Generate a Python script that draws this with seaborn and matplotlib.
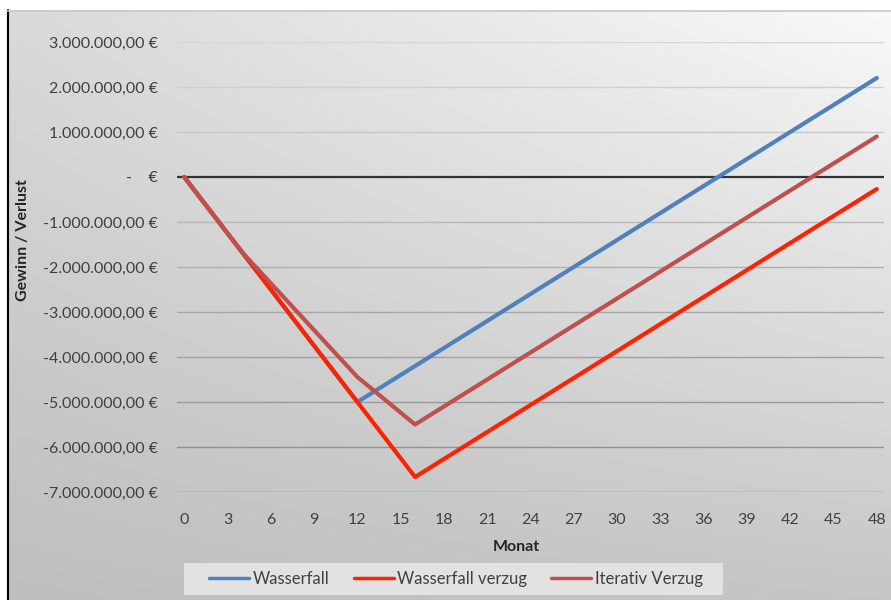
import numpy as np
import pandas as pd
import matplotlib
matplotlib.use("Agg")
import matplotlib.pyplot as plt
from matplotlib.patches import Rectangle
from matplotlib.ticker import FixedLocator, FuncFormatter
import seaborn as sns

# Monthly profit / loss in million euros
monat = list(range(0, 49))

wasserfall = [
    0.000, -0.417, -0.833, -1.250, -1.667, -2.083, -2.500, -2.917, -3.333,
    -3.750, -4.167, -4.583, -5.000, -4.800, -4.600, -4.400, -4.200, -4.000,
    -3.800, -3.600, -3.400, -3.200, -3.000, -2.800, -2.600, -2.400, -2.200,
    -2.000, -1.800, -1.600, -1.400, -1.200, -1.000, -0.800, -0.600, -0.400,
    -0.200, 0.000, 0.200, 0.400, 0.600, 0.800, 1.000, 1.200, 1.400, 1.600,
    1.800, 2.000, 2.200,
]

wasserfall_verzug = [
    0.000, -0.417, -0.833, -1.250, -1.667, -2.083, -2.500, -2.917, -3.333,
    -3.750, -4.167, -4.583, -5.000, -5.417, -5.833, -6.250, -6.667, -6.467,
    -6.267, -6.067, -5.867, -5.667, -5.467, -5.267, -5.067, -4.867, -4.667,
    -4.467, -4.267, -4.067, -3.867, -3.667, -3.467, -3.267, -3.067, -2.867,
    -2.667, -2.467, -2.267, -2.067, -1.867, -1.667, -1.467, -1.267, -1.067,
    -0.867, -0.667, -0.467, -0.267,
]

iterativ_verzug = [
    0.000, -0.417, -0.833, -1.250, -1.667, -2.014, -2.361, -2.708, -3.056,
    -3.403, -3.750, -4.097, -4.444, -4.708, -4.972, -5.236, -5.500, -5.300,
    -5.100, -4.900, -4.700, -4.500, -4.300, -4.100, -3.900, -3.700, -3.500,
    -3.300, -3.100, -2.900, -2.700, -2.500, -2.300, -2.100, -1.900, -1.700,
    -1.500, -1.300, -1.100, -0.900, -0.700, -0.500, -0.300, -0.100, 0.100,
    0.300, 0.500, 0.700, 0.900,
]

serien = ["Wasserfall", "Wasserfall verzug", "Iterativ Verzug"]
farben = ["#4f81bd", "#ff2200", "#c0504d"]
x_ticks = list(range(0, 49, 3))
y_ticks = [3e6, 2e6, 1e6, 0, -1e6, -2e6, -3e6, -4e6, -5e6, -6e6, -7e6]

df = pd.DataFrame({
    "Monat": monat * 3,
    "Wert": [v * 1e6 for v in wasserfall + wasserfall_verzug + iterativ_verzug],
    "Serie": [serien[0]] * 49 + [serien[1]] * 49 + [serien[2]] * 49,
})

sns.set_style("white")
plt.rcParams["font.family"] = ["Lato", "DejaVu Sans"]

W, H = 891, 600
fig = plt.figure(figsize=(W / 100, H / 100), dpi=100)

# Background: shaded panel with a light upper-right corner
bg = fig.add_axes([0, 0, 1, 1], zorder=-10)
bg.set_xlim(0, W)
bg.set_ylim(H, 0)
bg.axis("off")
xs = np.linspace(0, 1, W)
ys = np.linspace(0, 1, H)
X, Y = np.meshgrid(xs, ys)
tl, tr, bl, br = 218, 250, 190, 198
grad = (tl * (1 - X) * (1 - Y) + tr * X * (1 - Y) + bl * (1 - X) * Y + br * X * Y) / 255.0
img = np.dstack([grad, grad, grad])
img[:10, :, :] = 1.0
img[:, :7, :] = 1.0
bg.imshow(img, extent=(0, W, H, 0), aspect="auto", interpolation="bilinear")
bg.plot([7.5, 7.5], [10, H], color="black", lw=1.5)
bg.plot([7, W], [10.5, 10.5], color="#c8c8c8", lw=1.2)
# Legend panel
bg.add_patch(Rectangle((184, 563), 723 - 184, 595 - 563,
                       facecolor="#e2e2e2", edgecolor="none"))

ax = fig.add_axes([177 / W, (H - 492) / H, (884 - 177) / W, (492 - 42) / H])
ax.set_facecolor("none")

sns.lineplot(data=df, x="Monat", y="Wert", hue="Serie", hue_order=serien,
             palette=farben, linewidth=3.0, ax=ax, legend=True,
             solid_capstyle="round", solid_joinstyle="round")

ax.set_xlim(-0.5, 48.5)
ax.set_ylim(-7e6, 3e6)
ax.xaxis.set_major_locator(FixedLocator(x_ticks))
ax.yaxis.set_major_locator(FixedLocator(y_ticks))


def euro(v, pos):
    if abs(v) < 1:
        return "-    €"
    s = f"{abs(v):,.2f}".replace(",", "X").replace(".", ",").replace("X", ".")
    return ("-" if v < 0 else "") + s + " €"


ax.yaxis.set_major_formatter(FuncFormatter(euro))
ax.tick_params(axis="y", length=0, pad=14, labelsize=11.5, labelcolor="#404040")
ax.tick_params(axis="x", length=0, pad=15, labelsize=11.5, labelcolor="#404040")

for s in ax.spines.values():
    s.set_visible(False)

# Horizontal gridlines, darkening towards the bottom
for v in y_ticks:
    if v == 0:
        continue
    t = (3e6 - v) / 10e6
    g = 0.84 - 0.30 * t
    ax.axhline(v, color=(g, g, g), lw=1.0, zorder=0.5)
ax.axhline(0, color="#333333", lw=1.6, zorder=0.6)

ax.set_xlabel("Monat", fontsize=11.5, fontweight="bold", color="#262626")
ax.xaxis.set_label_coords(0.48, -0.106)
ax.set_ylabel("Gewinn / Verlust", fontsize=11.5, fontweight="bold", color="#262626")
ax.yaxis.set_label_coords(-0.208, 0.56)

handles, labels = ax.get_legend_handles_labels()
leg = ax.legend(handles, labels, ncol=3, loc="center",
                bbox_to_anchor=(456 / W, (H - 579) / H),
                bbox_transform=fig.transFigure,
                frameon=False, fontsize=12,
                handlelength=2.4, handletextpad=0.2, columnspacing=1.45,
                borderpad=0.3)
for line in leg.get_lines():
    line.set_linewidth(2.5)
for txt in leg.get_texts():
    txt.set_color("#404040")

fig.savefig("out.png", dpi=100)
